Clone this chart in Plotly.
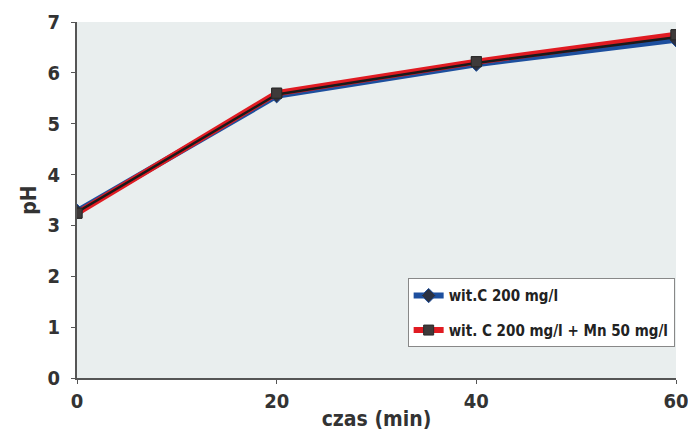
import plotly.graph_objects as go

time_min = [0, 20, 40, 60]
ph_vitc = [3.28, 5.55, 6.17, 6.65]
ph_vitc_mn = [3.24, 5.60, 6.22, 6.75]
x_ticks = [0, 20, 40, 60]
y_ticks = [0, 1, 2, 3, 4, 5, 6, 7]
name_vitc = "wit.C 200 mg/l"
name_vitc_mn = "wit. C 200 mg/l + Mn 50 mg/l"

FONT = "Liberation Sans Narrow, DejaVu Sans Condensed, Arial Narrow, sans-serif"

fig = go.Figure()
fig.add_trace(go.Scatter(
    x=time_min, y=ph_vitc, name=name_vitc, mode="lines+markers", legendgroup="a",
    line=dict(color="#1d4f9e", width=6),
    marker=dict(symbol="diamond", size=11, color="#2b3142", line=dict(color="#1d4f9e", width=1)),
))
fig.add_trace(go.Scatter(
    x=time_min, y=ph_vitc_mn, name=name_vitc_mn, mode="lines+markers", legendgroup="b",
    line=dict(color="#e01b22", width=6),
    marker=dict(symbol="square", size=10, color="#3e3a3a", line=dict(color="#2a2a2a", width=1)),
))
# dark core of the lines (rendering effect in the original)
fig.add_trace(go.Scatter(
    x=time_min, y=[(a + b) / 2 for a, b in zip(ph_vitc, ph_vitc_mn)],
    mode="lines", line=dict(color="#1a1a1a", width=2.5),
    showlegend=False, hoverinfo="skip",
))
fig.add_trace(go.Scatter(
    x=time_min, y=ph_vitc_mn, mode="markers", showlegend=False, hoverinfo="skip",
    marker=dict(symbol="square", size=10, color="#3e3a3a", line=dict(color="#2a2a2a", width=1)),
))

tickfont = dict(size=20, family=FONT, color="#333333", weight="bold")
titlefont = dict(size=21, family=FONT, color="#333333", weight="bold")

fig.update_layout(
    width=688, height=431,
    margin=dict(l=77, r=12, t=22, b=53),
    paper_bgcolor="white",
    plot_bgcolor="#e9eeee",
    font=dict(family=FONT, color="#333333"),
    xaxis=dict(
        range=[0, 60], tickvals=x_ticks, showgrid=False, zeroline=False,
        showline=True, linecolor="#555555", linewidth=2,
        ticks="outside", ticklen=4, tickcolor="#555555",
        tickfont=tickfont, automargin=False, ticklabeloverflow="allow",
        title=dict(text="czas (min)", font=titlefont, standoff=0),
    ),
    yaxis=dict(
        range=[0, 7], tickvals=y_ticks, showgrid=False, zeroline=False,
        showline=True, linecolor="#555555", linewidth=2,
        ticks="outside", ticklen=4, tickcolor="#555555",
        tickfont=tickfont, automargin=False, ticklabelstandoff=7,
        ticklabeloverflow="allow",
        title=dict(text="pH", font=titlefont, standoff=5),
    ),
    legend=dict(
        x=0.552, y=0.28, xanchor="left", yanchor="top",
        bgcolor="white", bordercolor="#888888", borderwidth=1,
        font=dict(size=15, family=FONT, color="#222222", weight="bold"),
        tracegroupgap=12,
    ),
    showlegend=True,
)

fig.write_html("out.html")
